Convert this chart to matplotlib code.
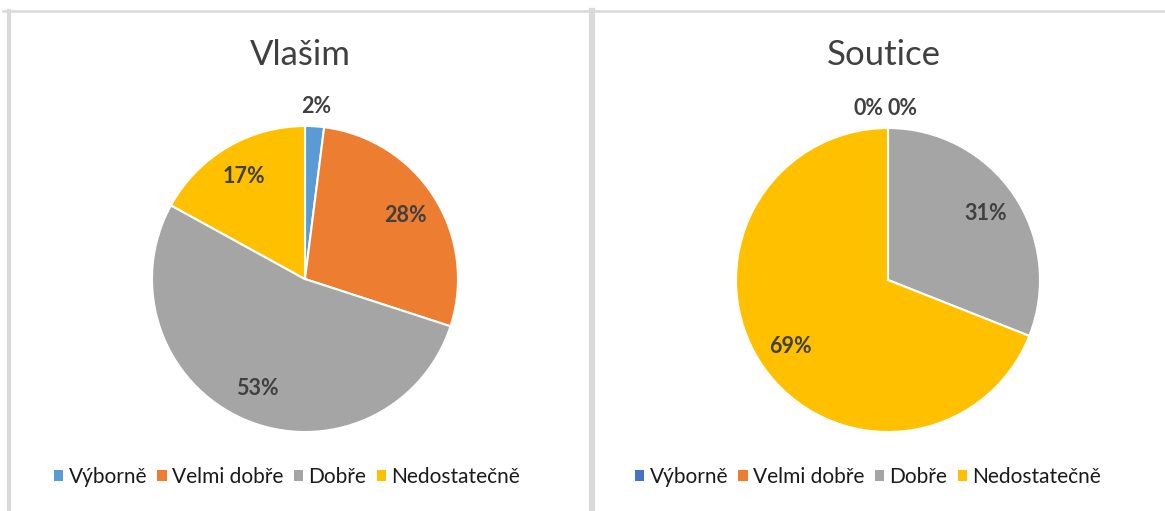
import matplotlib
matplotlib.use("Agg")
import matplotlib.pyplot as plt
from matplotlib.patches import Patch
from matplotlib.lines import Line2D
import numpy as np

plt.rcParams['font.family'] = ['Lato', 'DejaVu Sans']

categories = ["Výborně", "Velmi dobře", "Dobře", "Nedostatečně"]
titles = ["Vlašim", "Soutice"]
values_vlasim = [2, 28, 53, 17]
values_soutice = [0, 0, 31, 69]
colors_vlasim = ["#5B9BD5", "#ED7D31", "#A5A5A5", "#FFC000"]
colors_soutice = ["#4472C4", "#ED7D31", "#A5A5A5", "#FFC000"]

W, H = 1165, 511
fig = plt.figure(figsize=(W / 100, H / 100), dpi=100)
fig.patch.set_facecolor("white")

# panel borders
border = "#D9D9D9"
fig.add_artist(Line2D([3 / W, 1], [1 - 11 / H, 1 - 11 / H], color=border, lw=1.8, transform=fig.transFigure))
fig.add_artist(Line2D([9 / W, 9 / W], [0, 1 - 11 / H], color=border, lw=3.0, transform=fig.transFigure))
fig.add_artist(Line2D([591.5 / W, 591.5 / W], [0, 1 - 11 / H], color=border, lw=4.5, transform=fig.transFigure))

K = 1.3
panels = [
    dict(vals=values_vlasim, cols=colors_vlasim, title=titles[0], cx=305, cy=279, r=153, tx=300, lx=287),
    dict(vals=values_soutice, cols=colors_soutice, title=titles[1], cx=888, cy=280, r=152, tx=884, lx=868),
]

for p in panels:
    half = K * p["r"]
    ax = fig.add_axes([(p["cx"] - half) / W, (H - p["cy"] - half) / H, 2 * half / W, 2 * half / H])
    wedges, _ = ax.pie(p["vals"], colors=p["cols"], startangle=90, counterclock=False,
                       radius=1.0, wedgeprops=dict(edgecolor="white", linewidth=1.5))
    ax.set_xlim(-K, K)
    ax.set_ylim(-K, K)
    ax.set_aspect("equal")
    ax.axis("off")
    total = sum(p["vals"])
    zero_count = 0
    for w, v in zip(wedges, p["vals"]):
        ang = np.deg2rad((w.theta1 + w.theta2) / 2)
        pct = 100 * v / total
        txt = f"{pct:.0f}%"
        kw = dict(fontsize=15.5, fontweight="bold", color="#404040", va="center")
        if v == 0:
            d = 1.13
            x, y = d * np.cos(ang), d * np.sin(ang)
            if zero_count == 0:
                ax.text(x - 0.03, y, txt, ha="right", **kw)
            else:
                ax.text(x + 0.0, y, txt, ha="left", **kw)
            zero_count += 1
        elif pct < 5:
            d = 1.13
            ax.text(d * np.cos(ang), d * np.sin(ang), txt, ha="center", **kw)
        else:
            d = 0.78
            ax.text(d * np.cos(ang), d * np.sin(ang), txt, ha="center", **kw)

    fig.text(p["tx"] / W, 1 - 55 / H, p["title"], fontsize=25, color="#404040", ha="center", va="center")
    handles = [Patch(facecolor=c, edgecolor="none") for c in p["cols"]]
    fig.legend(handles, categories, loc="center", bbox_to_anchor=(p["lx"] / W, 1 - 477 / H), ncol=4,
               frameon=False, fontsize=15, handlelength=0.45, handleheight=0.45, handletextpad=0.25,
               columnspacing=0.5, labelcolor="#1a1a1a", borderpad=0)

fig.savefig("out.png", dpi=100, facecolor="white")
